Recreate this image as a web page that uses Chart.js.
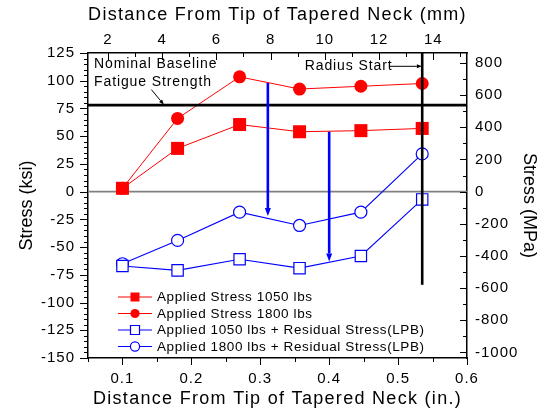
<!DOCTYPE html>
<html><head><meta charset="utf-8">
<script src="https://cdn.jsdelivr.net/npm/chart.js@4.4.1/dist/chart.umd.min.js"></script>
<style>html,body{margin:0;padding:0;background:#fff;overflow:hidden}</style>
</head><body>
<canvas id="c" width="544" height="411"></canvas>
<script>
// ---- data ----
const xIn = [0.1, 0.18, 0.27, 0.357, 0.446, 0.535];
const applied1050 = [3, 39, 60.5, 54, 55, 57];
const applied1800 = [3, 66, 103.5, 92.5, 95, 97.5];
const resid1050 = [-67, -71, -61, -69, -58, -7];
const resid1800 = [-65, -44, -18.5, -30.5, -18.5, 34];
const seriesNames = ['Applied Stress 1050 lbs', 'Applied Stress 1800 lbs',
  'Applied 1050 lbs + Residual Stress(LPB)', 'Applied 1800 lbs + Residual Stress(LPB)'];
const xTicksIn = [0.1, 0.2, 0.3, 0.4, 0.5, 0.6];
const xTicksMm = [2, 4, 6, 8, 10, 12, 14];
const yTicksKsi = [125, 100, 75, 50, 25, 0, -25, -50, -75, -100, -125, -150];
const yTicksMPa = [800, 600, 400, 200, 0, -200, -400, -600, -800, -1000];
const fatigueStrengthKsi = 78;
const radiusStartIn = 0.535;
const radiusLineBottomKsi = -84;
const arrowXs = [0.311, 0.4];
const arrowFrom = [98, 54];
const arrowTo = [-22, -63];

const KSI_TO_MPA = 6.895;
const MM_PER_IN = 25.4;
const X_MIN = 0.05, X_MAX = 0.6, Y_MIN = -150, Y_MAX = 125;

const FONT = "'Liberation Sans', Arial, sans-serif";
const RED = '#ff0000', BLUE = '#0000ff';
const TICK_LS = '1px';

const pts = arr => arr.map((v, i) => ({x: xIn[i], y: v}));

function line(ctx, x1, y1, x2, y2) { ctx.beginPath(); ctx.moveTo(x1, y1); ctx.lineTo(x2, y2); ctx.stroke(); }
function arrow(ctx, x1, y1, x2, y2, len, half, color, lw) {
  const ang = Math.atan2(y2 - y1, x2 - x1);
  ctx.strokeStyle = color; ctx.fillStyle = color; ctx.lineWidth = lw;
  const bx = x2 - Math.cos(ang) * len, by = y2 - Math.sin(ang) * len;
  line(ctx, x1, y1, bx, by);
  ctx.beginPath();
  ctx.moveTo(x2, y2);
  ctx.lineTo(bx + Math.sin(ang) * half, by - Math.cos(ang) * half);
  ctx.lineTo(bx - Math.sin(ang) * half, by + Math.cos(ang) * half);
  ctx.closePath(); ctx.fill();
}

const deco = {
  id: 'deco',
  beforeUpdate(chart) { chart.ctx.letterSpacing = TICK_LS; },
  beforeDraw(chart) { chart.ctx.letterSpacing = TICK_LS; },
  beforeDatasetsDraw(chart) {
    const {ctx, chartArea: a, scales: {y}} = chart;
    ctx.save();
    ctx.strokeStyle = '#808080'; ctx.lineWidth = 1.6;
    const y0 = y.getPixelForValue(0);
    line(ctx, a.left, y0, a.right, y0);
    ctx.restore();
  },
  afterDatasetsDraw(chart) {
    const {ctx, chartArea: a, scales: {x, y, x2, y2}} = chart;
    ctx.save();
    ctx.letterSpacing = '0px';
    // fatigue strength line
    ctx.strokeStyle = '#000'; ctx.lineWidth = 2.6;
    const yf = y.getPixelForValue(fatigueStrengthKsi);
    line(ctx, a.left, yf, a.right, yf);
    // radius start line
    const xr = x.getPixelForValue(radiusStartIn);
    line(ctx, xr, a.top, xr, y.getPixelForValue(radiusLineBottomKsi));
    // blue arrows
    arrowXs.forEach((xv, i) => {
      const px = x.getPixelForValue(xv);
      arrow(ctx, px, y.getPixelForValue(arrowFrom[i]), px, y.getPixelForValue(arrowTo[i]), 8, 3, BLUE, 2.6);
    });
    // annotation texts
    ctx.fillStyle = '#000';
    ctx.font = '14px ' + FONT;
    ctx.letterSpacing = '0.9px';
    ctx.textBaseline = 'middle'; ctx.textAlign = 'left';
    ctx.fillText('Nominal Baseline', x.getPixelForValue(0.0587), y.getPixelForValue(115));
    ctx.fillText('Fatigue Strength', x.getPixelForValue(0.0587), y.getPixelForValue(98.5));
    ctx.fillText('Radius Start', x.getPixelForValue(0.3645), y.getPixelForValue(113));
    ctx.letterSpacing = '0px';
    arrow(ctx, x.getPixelForValue(0.142), y.getPixelForValue(92), x.getPixelForValue(0.16), y.getPixelForValue(78.5), 5, 2, '#000', 1);
    arrow(ctx, x.getPixelForValue(0.488), y.getPixelForValue(113), x.getPixelForValue(0.5345), y.getPixelForValue(113), 5, 2, '#000', 1);

    // tick marks
    ctx.strokeStyle = '#000'; ctx.lineWidth = 1;
    for (let v = Y_MIN; v <= Y_MAX; v += 5) {
      const p = Math.round(y.getPixelForValue(v)) + 0.5;
      const len = v % 25 === 0 ? 8 : 4;
      line(ctx, a.left - len, p, a.left, p);
    }
    for (let v = -1000; v <= 800; v += 100) {
      const p = Math.round(y2.getPixelForValue(v)) + 0.5;
      const len = v % 200 === 0 ? 7 : 4;
      line(ctx, a.right - len, p, a.right, p);
    }
    for (let k = 1; k <= 12; k++) {
      const v = k * 0.05;
      const p = Math.round(x.getPixelForValue(v)) + 0.5;
      const len = k % 2 === 0 ? 7 : 4;
      line(ctx, p, a.bottom, p, a.bottom + len);
    }
    for (let v = 2; v <= 15; v++) {
      const p = Math.round(x2.getPixelForValue(v)) + 0.5;
      const len = v % 2 === 0 ? 7 : 4;
      line(ctx, p, a.top, p, a.top + len);
    }

    // axis titles
    ctx.fillStyle = '#000';
    ctx.font = '18px ' + FONT;
    ctx.textAlign = 'center'; ctx.textBaseline = 'middle';
    ctx.letterSpacing = '1.3px';
    const cx = (a.left + a.right) / 2;
    ctx.fillText('Distance From Tip of Tapered Neck (mm)', cx, 15);
    ctx.fillText('Distance From Tip of Tapered Neck (in.)', cx, 399);
    ctx.letterSpacing = '0px';
    const cy = (a.top + a.bottom) / 2;
    ctx.save(); ctx.translate(27, cy); ctx.rotate(-Math.PI / 2);
    ctx.fillText('Stress (ksi)', 0, 0); ctx.restore();
    ctx.save(); ctx.translate(529, cy); ctx.rotate(Math.PI / 2);
    ctx.fillText('Stress (MPa)', 0, 0); ctx.restore();

    // legend
    const lx = a.left + 30, ly = a.bottom - 61, dy = 16.5;
    ctx.font = '13.5px ' + FONT;
    ctx.letterSpacing = '0.6px';
    ctx.textAlign = 'left'; ctx.textBaseline = 'middle';
    chart.data.datasets.forEach((ds, i) => {
      const yy = ly + i * dy;
      ctx.strokeStyle = ds.borderColor; ctx.lineWidth = 1;
      line(ctx, lx, yy, lx + 34, yy);
      const mx = lx + 17;
      ctx.lineWidth = 1.2;
      ctx.fillStyle = ds.pointBackgroundColor;
      ctx.strokeStyle = ds.pointBorderColor;
      ctx.beginPath();
      if (ds.pointStyle === 'rect') ctx.rect(mx - 4.5, yy - 4.5, 9, 9);
      else ctx.arc(mx, yy, 4.6, 0, Math.PI * 2);
      ctx.fill(); if (ds.pointBorderWidth) ctx.stroke();
      ctx.fillStyle = '#000';
      ctx.fillText(seriesNames[i], lx + 39, yy + 0.5);
    });
    ctx.restore();
  }
};

const tickFont = {family: FONT, size: 15};
const gridOpts = {display: false, drawTicks: false, tickLength: 0};
new Chart(document.getElementById('c'), {
  type: 'scatter',
  data: {
    datasets: [
      {label: seriesNames[0], data: pts(applied1050), showLine: true, borderColor: RED, borderWidth: 1,
       pointStyle: 'rect', pointRadius: 9.2, pointBackgroundColor: RED, pointBorderColor: RED, pointBorderWidth: 0},
      {label: seriesNames[1], data: pts(applied1800), showLine: true, borderColor: RED, borderWidth: 1,
       pointStyle: 'circle', pointRadius: 6.5, pointBackgroundColor: RED, pointBorderColor: RED, pointBorderWidth: 0},
      {label: seriesNames[2], data: pts(resid1050), showLine: true, borderColor: BLUE, borderWidth: 1.1,
       pointStyle: 'rect', pointRadius: 8, pointBackgroundColor: '#fff', pointBorderColor: BLUE, pointBorderWidth: 1.2},
      {label: seriesNames[3], data: pts(resid1800), showLine: true, borderColor: BLUE, borderWidth: 1.1,
       pointStyle: 'circle', pointRadius: 6, pointBackgroundColor: '#fff', pointBorderColor: BLUE, pointBorderWidth: 1.2}
    ]
  },
  options: {
    responsive: false, animation: false, devicePixelRatio: 1,
    layout: {padding: 0},
    plugins: {legend: {display: false}, tooltip: {enabled: false}},
    elements: {line: {tension: 0}},
    scales: {
      x: {type: 'linear', position: 'bottom', min: X_MIN, max: X_MAX,
        afterBuildTicks: s => { s.ticks = xTicksIn.map(v => ({value: v})); },
        afterFit: s => { s.height = 53; },
        grid: gridOpts, border: {display: true, color: '#000', width: 1.5},
        ticks: {font: tickFont, color: '#000', padding: 12, maxRotation: 0, autoSkip: false,
          callback: v => v.toFixed(1)}},
      x2: {type: 'linear', position: 'top', min: X_MIN * MM_PER_IN, max: X_MAX * MM_PER_IN,
        afterBuildTicks: s => { s.ticks = xTicksMm.map(v => ({value: v})); },
        afterFit: s => { s.height = 53; },
        grid: gridOpts, border: {display: true, color: '#000', width: 1.5},
        ticks: {font: tickFont, color: '#000', padding: 4, maxRotation: 0, autoSkip: false,
          callback: v => String(v)}},
      y: {type: 'linear', position: 'left', min: Y_MIN, max: Y_MAX,
        afterBuildTicks: s => { s.ticks = yTicksKsi.map(v => ({value: v})); },
        afterFit: s => { s.width = 88; },
        grid: gridOpts, border: {display: true, color: '#000', width: 1.5},
        ticks: {font: tickFont, color: '#000', padding: 13, autoSkip: false, callback: v => String(v)}},
      y2: {type: 'linear', position: 'right', min: Y_MIN * KSI_TO_MPA, max: Y_MAX * KSI_TO_MPA,
        afterBuildTicks: s => { s.ticks = yTicksMPa.map(v => ({value: v})); },
        afterFit: s => { s.width = 77; },
        grid: gridOpts, border: {display: true, color: '#000', width: 1.5},
        ticks: {font: tickFont, color: '#000', padding: 8, autoSkip: false, callback: v => String(v)}}
    }
  },
  plugins: [deco]
});
</script>
</body></html>
